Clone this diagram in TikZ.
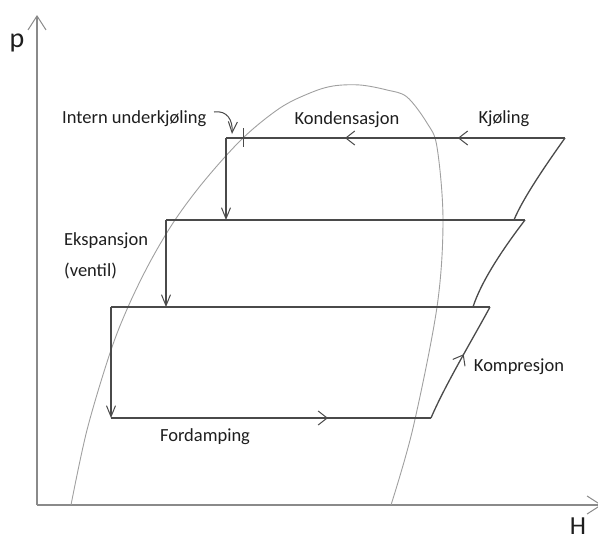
\documentclass[tikz,border=0pt]{standalone}
\usepackage{fontspec}
\setmainfont{Carlito}
\usetikzlibrary{arrows.meta,decorations.markings}
\definecolor{cyccol}{HTML}{4A4A4A}
\definecolor{domecol}{HTML}{A0A0A0}
\definecolor{axcol}{HTML}{8A8A8A}
\definecolor{txt}{HTML}{1E1E1E}
\begin{document}
\begin{tikzpicture}[x=1pt,y=-1pt,
  lbl/.style={font=\fontsize{18.5}{21}\selectfont, text=txt, inner sep=0pt},
  axlbl/.style={font=\fontsize{28}{30}\selectfont, text=txt, inner sep=0pt},
  cyc/.style={draw=cyccol, line width=1.3pt},
  dome/.style={draw=domecol, line width=0.9pt},
  axis/.style={draw=axcol, line width=1.1pt},
  tipS/.style={-{Straight Barb[length=11pt,width=9pt,line width=1pt]}},
  axtip/.style={-{Straight Barb[length=14pt,width=18pt,line width=1pt]}},
  midone/.style={postaction={decorate}, decoration={markings,
     mark=at position #1 with {\arrow{Straight Barb[length=9pt,width=14pt,line width=1pt]}}}},
  midtwo/.style 2 args={postaction={decorate}, decoration={markings,
     mark=at position #1 with {\arrow{Straight Barb[length=9pt,width=14pt,line width=1pt]}},
     mark=at position #2 with {\arrow{Straight Barb[length=9pt,width=14pt,line width=1pt]}}}}
]
\useasboundingbox (0,0) rectangle (598,542);

% axes
\coordinate (O) at (37,505);
\coordinate (Ptop) at (37,15);
\coordinate (Hend) at (602,505);
\draw[axis, axtip] (O) -- (Ptop);
\draw[axis, axtip] (O) -- (Hend);
\node[axlbl] (plbl) at (17,43) {p};
\node[axlbl, font=\fontsize{26}{28}\selectfont] (hlbl) at (578,526) {H};

% saturation dome
\draw[dome] plot[smooth, tension=0.55] coordinates {(71,505) (87,430) (110,353) (128,307) (150,262) (175,220) (205,180) (243,138) (280,108) (310,93) (333,86) (360,85) (387,90) (407,97) (427,123) (437,147) (443,220) (437,307) (413,428) (391,505)};

% cycle coordinates
\coordinate (K1) at (565,138);
\coordinate (K0) at (226,138);
\coordinate (E1) at (226,220);
\coordinate (L2l) at (166,220);
\coordinate (L2r) at (525,220);
\coordinate (C2end) at (514,220);
\coordinate (E2) at (166,307);
\coordinate (L3l) at (111,307);
\coordinate (L3r) at (490,307);
\coordinate (C3end) at (473,307);
\coordinate (F0) at (111,418);
\coordinate (F1) at (431,418);
\coordinate (T0) at (243,128);
\coordinate (T1) at (243,147);

\draw[cyc, midtwo={0.316}{0.649}] (K1) -- (K0);
\draw[cyc, line width=1pt] (T0) -- (T1);
\draw[cyc, tipS] (K0) -- (E1);
\draw[cyc] (L2l) -- (L2r);
\draw[cyc, tipS] (L2l) -- (E2);
\draw[cyc] (L3l) -- (L3r);
\draw[cyc, tipS] (L3l) -- (F0);
\draw[cyc, midone=0.678] (F0) -- (F1);
\draw[cyc, midone=0.57] (F1) .. controls (445,385) and (475,335) .. (L3r);
\draw[cyc] (L2r) .. controls (502,250) and (481,282) .. (C3end);
\draw[cyc] (K1) .. controls (545,166) and (522,200) .. (C2end);

% labels
\node[lbl, anchor=west] (iu) at (62,119) {Intern underkjøling};
\coordinate (cs) at (214,112);
\coordinate (ce) at (232,134);
\draw[cyc, line width=1pt, tipS] (cs) .. controls (227,110) and (233,120) .. (ce);
\node[lbl] (kond) at (347,120) {Kondensasjon};
\node[lbl] (kjol) at (504,119) {Kjøling};
\node[lbl, anchor=west] (eks) at (64,241) {Ekspansjon};
\node[lbl, anchor=west] (vent) at (64,271) {(ventil)};
\node[lbl] (ford) at (205,437) {Fordamping};
\node[lbl] (komp) at (519,367) {Kompresjon};
\end{tikzpicture}
\end{document}
